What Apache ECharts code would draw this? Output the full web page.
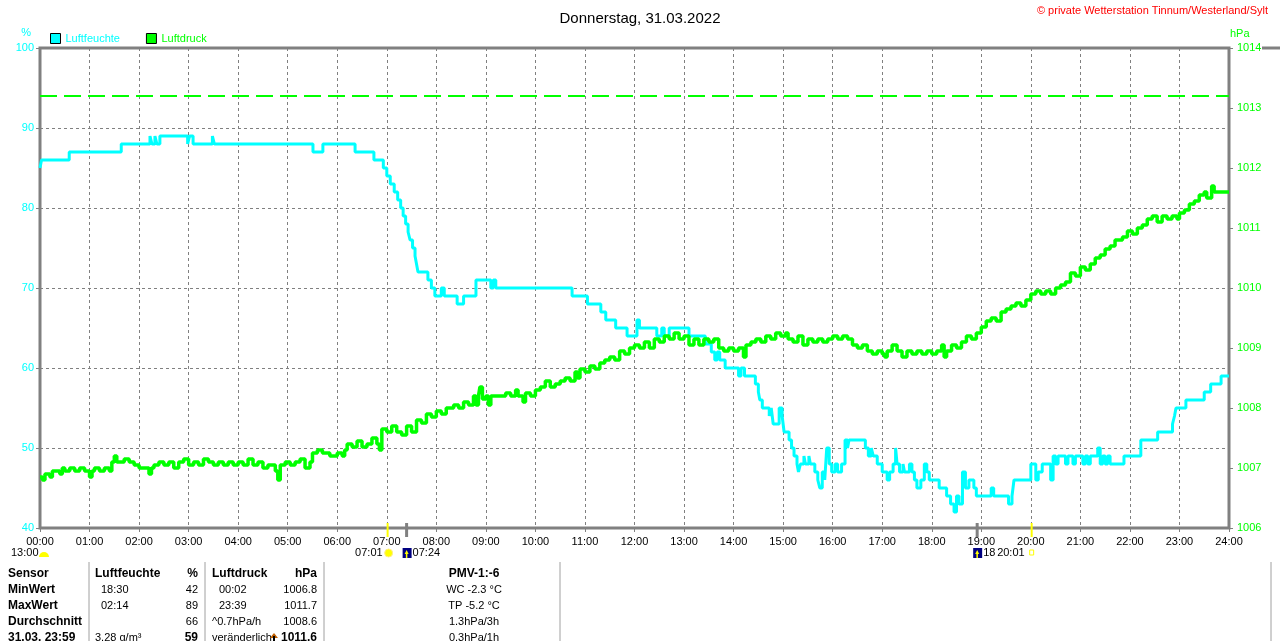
<!DOCTYPE html>
<html>
<head>
<meta charset="utf-8">
<title>Donnerstag, 31.03.2022</title>
<script src="https://cdn.jsdelivr.net/npm/echarts@6/dist/echarts.min.js"></script>
<style>
  html, body { margin: 0; padding: 0; background: #fff; }
  #main { width: 1280px; height: 641px; }
</style>
</head>
<body>
<div id="main"></div>
<script>
// Luftfeuchte (%), Stufen: Wert gilt ab der Stunde bis zum nächsten Eintrag
const humHours = [
  0.00, 0.03, 0.59, 1.64, 2.22, 2.26, 2.32, 2.36, 2.42, 2.98, 3.02, 3.09, 3.48, 3.52,
  5.51, 5.71, 6.36, 6.74, 6.93, 7.00, 7.07, 7.15, 7.22, 7.28, 7.33, 7.38, 7.43, 7.47,
  7.52, 7.57, 7.60, 7.63, 7.83, 7.90, 7.97, 8.10, 8.16, 8.42, 8.55, 8.80, 9.10, 9.15,
  9.20, 10.74, 11.05, 11.32, 11.42, 11.62, 11.85, 12.05, 12.10, 12.45, 12.55, 12.60, 12.70,
  13.10, 13.43, 13.55, 13.62, 13.67, 13.72, 13.83, 14.10, 14.15, 14.22, 14.44, 14.50,
  14.53, 14.58, 14.72, 14.76, 14.80, 14.92, 14.98, 15.02, 15.12, 15.17, 15.22, 15.28,
  15.31, 15.35, 15.42, 15.45, 15.52, 15.55, 15.64, 15.70, 15.74, 15.79, 15.84, 15.88,
  15.93, 15.98, 16.05, 16.10, 16.18, 16.25, 16.30, 16.33, 16.66, 16.72, 16.78, 16.82,
  16.90, 17.00, 17.10, 17.15, 17.22, 17.27, 17.30, 17.35, 17.42, 17.45, 17.55, 17.60,
  17.65, 17.70, 17.78, 17.85, 17.90, 17.95, 18.15, 18.30, 18.38, 18.45, 18.50, 18.55,
  18.62, 18.68, 18.75, 18.85, 18.90, 19.09, 19.20, 19.25, 19.55, 19.62, 19.66, 20.00,
  20.10, 20.15, 20.23, 20.40, 20.45, 20.50, 20.55, 20.70, 20.75, 20.85, 20.90, 21.05,
  21.10, 21.15, 21.20, 21.35, 21.40, 21.45, 21.50, 21.55, 21.60, 21.88, 22.22, 22.56,
  22.86, 22.90, 22.93, 23.13, 23.50, 23.63, 23.84, 24.00
];
const humValues = [
  85, 86, 87, 88, 89, 88, 89, 88, 89, 88, 89, 88, 89, 88,
  87, 88, 87, 86, 85, 84, 83, 82, 81, 80, 79, 78, 77, 76,
  75, 74, 73, 72, 71, 70, 69, 70, 69, 68, 69, 71, 70, 71,
  70, 69, 68, 67, 66, 65, 64, 66, 65, 64, 65, 64, 65,
  64, 63, 62, 61, 62, 61, 60, 59, 60, 59, 58, 57,
  56, 55, 54, 55, 53, 55, 54, 52, 51, 50, 49, 48,
  47, 48, 49, 48, 49, 48, 47, 46, 45, 47, 46, 50,
  48, 47, 48, 47, 48, 51, 50, 51, 50, 49, 50, 49,
  48, 47, 46, 47, 48, 50, 48, 47, 48, 47, 48, 47,
  46, 45, 46, 48, 47, 46, 45, 44, 43, 42, 44, 43,
  47, 45, 46, 45, 44, 44, 45, 44, 43, 44, 46, 48,
  46, 47, 48, 46, 49, 48, 49, 48, 49, 48, 49, 48,
  49, 48, 49, 50, 48, 49, 48, 49, 48, 49, 51, 52,
  53, 54, 55, 56, 57, 58, 59, 59
];

// Luftdruck (hPa)
const pressHours = [
  0.00, 0.05, 0.10, 0.20, 0.25, 0.40, 0.45, 0.50, 0.60, 0.70, 0.80, 0.90, 1.00, 1.05,
  1.10, 1.20, 1.30, 1.40, 1.45, 1.50, 1.55, 1.70, 1.80, 1.90, 2.00, 2.20, 2.25, 2.30,
  2.40, 2.50, 2.60, 2.70, 2.80, 2.90, 3.00, 3.10, 3.20, 3.30, 3.40, 3.50, 3.60, 3.70,
  3.80, 3.90, 4.00, 4.10, 4.20, 4.30, 4.40, 4.50, 4.60, 4.75, 4.80, 4.85, 4.95, 5.05,
  5.15, 5.25, 5.35, 5.45, 5.50, 5.60, 5.70, 5.85, 6.00, 6.10, 6.15, 6.20, 6.30, 6.40,
  6.50, 6.60, 6.70, 6.80, 6.85, 6.90, 7.00, 7.10, 7.20, 7.30, 7.40, 7.50, 7.60, 7.70,
  7.80, 7.90, 8.00, 8.10, 8.20, 8.35, 8.45, 8.55, 8.65, 8.75, 8.80, 8.85, 8.88, 8.93,
  9.00, 9.05, 9.10, 9.30, 9.40, 9.50, 9.60, 9.65, 9.75, 9.80, 9.90, 10.00, 10.10, 10.20,
  10.30, 10.40, 10.50, 10.60, 10.70, 10.80, 10.85, 10.90, 11.00, 11.10, 11.20, 11.30,
  11.40, 11.50, 11.60, 11.70, 11.80, 11.90, 12.00, 12.10, 12.20, 12.30, 12.40, 12.50,
  12.60, 12.70, 12.80, 12.90, 13.00, 13.10, 13.20, 13.30, 13.40, 13.50, 13.60, 13.70,
  13.80, 13.90, 14.00, 14.10, 14.20, 14.25, 14.35, 14.45, 14.55, 14.65, 14.75, 14.85,
  14.95, 15.05, 15.10, 15.20, 15.30, 15.40, 15.50, 15.60, 15.70, 15.80, 15.90, 16.00,
  16.10, 16.20, 16.30, 16.40, 16.50, 16.60, 16.70, 16.80, 16.90, 17.00, 17.05, 17.10,
  17.20, 17.30, 17.40, 17.50, 17.60, 17.70, 17.80, 17.90, 18.00, 18.10, 18.20, 18.25,
  18.30, 18.40, 18.50, 18.60, 18.70, 18.80, 18.90, 19.00, 19.10, 19.20, 19.30, 19.40,
  19.50, 19.60, 19.70, 19.80, 19.90, 20.00, 20.10, 20.20, 20.30, 20.40, 20.50, 20.60,
  20.70, 20.80, 20.90, 21.00, 21.10, 21.20, 21.30, 21.40, 21.50, 21.60, 21.70, 21.85,
  21.95, 22.05, 22.15, 22.25, 22.35, 22.45, 22.55, 22.65, 22.75, 22.85, 22.95, 23.00,
  23.10, 23.20, 23.30, 23.40, 23.50, 23.55, 23.65, 23.70, 24.00
];
const pressValues = [
  1006.85, 1006.8, 1006.9, 1006.85, 1006.95, 1006.9, 1007.0, 1006.95, 1007.0, 1006.95, 1007.0, 1006.95, 1006.85, 1006.95,
  1007.0, 1006.95, 1007.0, 1006.95, 1007.1, 1007.2, 1007.1, 1007.15, 1007.1, 1007.05, 1007.0, 1006.9, 1007.0, 1007.05,
  1007.1, 1007.05, 1007.1, 1007.0, 1007.1, 1007.15, 1007.05, 1007.1, 1007.05, 1007.15, 1007.1, 1007.05, 1007.1, 1007.05,
  1007.1, 1007.05, 1007.1, 1007.05, 1007.15, 1007.05, 1007.1, 1007.0, 1007.05, 1006.95, 1006.8, 1007.05, 1007.1, 1007.05,
  1007.1, 1007.15, 1007.0, 1007.1, 1007.25, 1007.3, 1007.25, 1007.2, 1007.25, 1007.2, 1007.3, 1007.4, 1007.35, 1007.45,
  1007.35, 1007.4, 1007.5, 1007.4, 1007.3, 1007.65, 1007.6, 1007.7, 1007.6, 1007.55, 1007.7, 1007.6, 1007.8, 1007.75,
  1007.9, 1007.85, 1007.95, 1007.9, 1008.0, 1008.05, 1008.0, 1008.1, 1008.05, 1008.2, 1008.05, 1008.2, 1008.35, 1008.15,
  1008.2, 1008.05, 1008.2, 1008.2, 1008.25, 1008.2, 1008.3, 1008.2, 1008.1, 1008.25, 1008.2, 1008.3, 1008.35, 1008.45,
  1008.35, 1008.4, 1008.45, 1008.5, 1008.45, 1008.6, 1008.5, 1008.65, 1008.6, 1008.7, 1008.65, 1008.75,
  1008.8, 1008.85, 1008.8, 1008.95, 1008.9, 1009.0, 1009.05, 1009.0, 1009.1, 1009.0, 1009.15, 1009.1,
  1009.2, 1009.15, 1009.25, 1009.15, 1009.2, 1009.05, 1009.15, 1009.05, 1009.15, 1009.1, 1009.15, 1009.0,
  1008.95, 1009.0, 1008.95, 1009.0, 1008.85, 1009.05, 1009.1, 1009.15, 1009.1, 1009.2, 1009.15, 1009.25,
  1009.2, 1009.25, 1009.15, 1009.1, 1009.2, 1009.05, 1009.15, 1009.1, 1009.15, 1009.1, 1009.15, 1009.2,
  1009.15, 1009.2, 1009.15, 1009.05, 1009.0, 1009.05, 1008.95, 1008.9, 1008.95, 1008.9, 1008.85, 1008.95,
  1009.05, 1008.95, 1008.85, 1008.95, 1008.9, 1008.95, 1008.9, 1008.95, 1008.9, 1008.95, 1009.05, 1008.85,
  1008.95, 1009.05, 1009.0, 1009.1, 1009.2, 1009.15, 1009.25, 1009.35, 1009.45, 1009.5, 1009.45, 1009.6,
  1009.65, 1009.7, 1009.75, 1009.7, 1009.8, 1009.9, 1009.95, 1009.9, 1009.95, 1009.9, 1010.0, 1010.05,
  1010.1, 1010.25, 1010.2, 1010.35, 1010.3, 1010.4, 1010.5, 1010.55, 1010.65, 1010.7, 1010.8, 1010.85,
  1010.95, 1010.9, 1011.0, 1011.05, 1011.15, 1011.2, 1011.1, 1011.2, 1011.15, 1011.2, 1011.15, 1011.25,
  1011.3, 1011.4, 1011.45, 1011.55, 1011.6, 1011.5, 1011.7, 1011.6, 1011.6
];

const pressRefLine = 1013.2;

// Sonne / Mond Auf- und Untergang
const sunMoonEvents = [
  { t: 7 + 1 / 60, label: '07:01', kind: 'sunrise' },
  { t: 7 + 24 / 60, label: '07:24', kind: 'moonrise' },
  { t: 18 + 55 / 60, label: '18:55', kind: 'moonset' },
  { t: 20 + 1 / 60, label: '20:01', kind: 'sunset' }
];
const moonLabel = '13:00';

// Tabelle unten
const tableHeader = ['Sensor', 'Luftfeuchte', '%', 'Luftdruck', 'hPa', 'PMV-1:-6'];
const rowLabels = ['MinWert', 'MaxWert', 'Durchschnitt', '31.03. 23:59'];
const humTimes = ['18:30', '02:14', '', '3.28 g/m³'];
const humStats = ['42', '89', '66', '59'];
const pressTimes = ['00:02', '23:39', '^0.7hPa/h', 'veränderlich'];
const pressStats = ['1006.8', '1011.7', '1008.6', '1011.6'];
const pmvTexts = ['WC -2.3 °C', 'TP -5.2 °C', '1.3hPa/3h', '0.3hPa/1h'];

const CYAN = '#00ffff';
const GREEN = '#00ff00';
const GRAY = '#808080';
const FONT = 'Liberation Sans';

let chart = echarts.init(document.getElementById('main'));

let humData = humHours.map((h, i) => [h, humValues[i]]);
let pressData = pressHours.map((h, i) => [h, pressValues[i]]);

let option = {
  backgroundColor: '#fff',
  animation: false,
  title: {
    text: 'Donnerstag, 31.03.2022',
    left: 'center',
    top: 6,
    textStyle: { color: '#000', fontWeight: 'normal', fontSize: 15, fontFamily: FONT }
  },
  legend: {
    left: 45,
    top: 28,
    itemWidth: 10,
    itemHeight: 10,
    itemGap: 26,
    icon: 'rect',
    itemStyle: { borderColor: '#000', borderWidth: 1 },
    textStyle: { fontSize: 11, fontFamily: FONT },
    data: [
      { name: 'Luftfeuchte', textStyle: { color: CYAN } },
      { name: 'Luftdruck', textStyle: { color: GREEN } }
    ]
  },
  grid: {
    left: 40, right: 51, top: 48, bottom: 113,
    show: true,
    borderColor: GRAY,
    borderWidth: 3
  },
  xAxis: {
    type: 'value',
    min: 0, max: 24, interval: 1,
    axisLine: { show: false },
    axisTick: { show: true, length: 4, lineStyle: { color: GRAY } },
    axisLabel: {
      color: '#000', fontSize: 11, fontFamily: FONT, margin: 8,
      formatter: v => String(v).padStart(2, '0') + ':00'
    },
    splitLine: { show: true, lineStyle: { color: GRAY, type: [3, 3], width: 1 } }
  },
  yAxis: [
    {
      type: 'value',
      min: 40, max: 100, interval: 10,
      name: '%',
      nameLocation: 'end',
      nameGap: 10,
      nameTextStyle: { color: CYAN, fontSize: 11, fontFamily: FONT, align: 'right', padding: [0, 9, 0, 0] },
      axisLine: { show: false },
      axisTick: { show: true, length: 4, lineStyle: { color: GRAY } },
      axisLabel: { color: CYAN, fontSize: 11, fontFamily: FONT, margin: 6 },
      splitLine: { show: true, lineStyle: { color: GRAY, type: [3, 3], width: 1 } }
    },
    {
      type: 'value',
      min: 1006, max: 1014, interval: 1,
      position: 'right',
      name: 'hPa',
      nameLocation: 'end',
      nameGap: 9,
      nameTextStyle: { color: GREEN, fontSize: 11, fontFamily: FONT, align: 'left', padding: [0, 0, 0, 1] },
      axisLine: { show: false },
      axisTick: { show: true, length: 4, lineStyle: { color: GRAY } },
      axisLabel: { color: GREEN, fontSize: 11, fontFamily: FONT, margin: 8, formatter: v => String(v) },
      splitLine: { show: false }
    }
  ],
  series: [
    {
      name: 'Luftfeuchte',
      type: 'line',
      step: 'end',
      yAxisIndex: 0,
      showSymbol: false,
      color: CYAN,
      lineStyle: { color: CYAN, width: 3 },
      data: humData
    },
    {
      name: 'Luftdruck',
      type: 'line',
      step: 'end',
      yAxisIndex: 1,
      showSymbol: false,
      color: GREEN,
      lineStyle: { color: GREEN, width: 3.5 },
      data: pressData,
      markLine: {
        silent: true,
        symbol: 'none',
        label: { show: false },
        lineStyle: { color: GREEN, type: [17, 7], width: 2 },
        data: [{ yAxis: pressRefLine }]
      }
    }
  ]
};

chart.setOption(option);

/* Texte und Markierungen unter der Zeitachse + Tabelle */
let graphics = [];

graphics.push({
  type: 'text', right: 12, top: 5,
  style: { text: '© private Wetterstation Tinnum/Westerland/Sylt', fill: '#ff0000', font: '11px ' + FONT }
});

sunMoonEvents.forEach(ev => {
  let [px, py] = chart.convertToPixel({ xAxisIndex: 0, yAxisIndex: 0 }, [ev.t, 40]);
  let isSun = ev.kind === 'sunrise' || ev.kind === 'sunset';
  graphics.push({
    type: 'line', z: 20,
    shape: { x1: px, y1: py - 5, x2: px, y2: py + 9 },
    style: { stroke: isSun ? '#ffff00' : GRAY, lineWidth: isSun ? 2 : 3 }
  });
  if (ev.kind === 'sunrise') {
    graphics.push({ type: 'circle', shape: { cx: px + 1, cy: 553, r: 4 }, style: { fill: '#ffff00', stroke: '#ffee88', lineWidth: 1 } });
    graphics.push({ type: 'text', x: px - 5, y: 553, style: { text: ev.label, fill: '#000', font: '11px ' + FONT, align: 'right', verticalAlign: 'middle' } });
  } else if (ev.kind === 'sunset') {
    graphics.push({ type: 'text', x: px - 7, y: 553, z: 5, style: { text: ev.label, fill: '#000', font: '11px ' + FONT, align: 'right', verticalAlign: 'middle', backgroundColor: '#fff', padding: [0, 0, 0, 2] } });
    graphics.push({ type: 'rect', shape: { x: px - 2, y: 550, width: 4, height: 5 }, style: { fill: '#fff', stroke: '#ffff00', lineWidth: 1 } });
  } else {
    graphics.push({ type: 'rect', shape: { x: px - 4, y: 548, width: 9, height: 10 }, style: { fill: '#000080' } });
    graphics.push({ type: 'polygon', shape: { points: [[px, 550], [px - 2, 554], [px + 2, 554]] }, style: { fill: '#ffff00' } });
    graphics.push({ type: 'line', shape: { x1: px, y1: 553, x2: px, y2: 558 }, style: { stroke: '#ffff00', lineWidth: 1.5 } });
    graphics.push({ type: 'text', x: px + 6, y: 553, z: 1, style: { text: ev.label, fill: '#000', font: '11px ' + FONT, verticalAlign: 'middle' } });
  }
});

graphics.push({ type: 'text', x: 11, y: 553, style: { text: moonLabel, fill: '#000', font: '11px ' + FONT, verticalAlign: 'middle' } });
graphics.push({ type: 'sector', shape: { cx: 44, cy: 557, r0: 0, r: 5, startAngle: Math.PI, endAngle: 2 * Math.PI }, style: { fill: '#ffff00' } });

// Tabelle
const rowY = [574, 590, 606, 622, 638];
const sepX = [89, 205, 324, 560];
sepX.forEach(x => {
  graphics.push({ type: 'line', shape: { x1: x, y1: 562, x2: x, y2: 641 }, style: { stroke: '#a0a0a0', lineWidth: 1 } });
});

function txt(x, y, s, opts) {
  opts = opts || {};
  graphics.push({
    type: 'text', x: x, y: y,
    style: {
      text: s, fill: '#000',
      font: (opts.bold ? 'bold 12px ' : '11px ') + FONT,
      align: opts.align || 'left', verticalAlign: 'middle'
    }
  });
}

txt(8, rowY[0], tableHeader[0], { bold: true });
txt(95, rowY[0], tableHeader[1], { bold: true });
txt(198, rowY[0], tableHeader[2], { bold: true, align: 'right' });
txt(212, rowY[0], tableHeader[3], { bold: true });
txt(317, rowY[0], tableHeader[4], { bold: true, align: 'right' });
txt(474, rowY[0], tableHeader[5], { bold: true, align: 'center' });

rowLabels.forEach((lab, i) => {
  let y = rowY[i + 1];
  let last = i === rowLabels.length - 1;
  txt(8, y, lab, { bold: true });
  txt(i >= 2 ? 95 : 101, y, humTimes[i]);
  txt(198, y, humStats[i], { align: 'right', bold: last });
  txt(i >= 2 ? 212 : 219, y, pressTimes[i]);
  txt(317, y, pressStats[i], { align: 'right', bold: last });
  txt(474, y, pmvTexts[i], { align: 'center' });
});

// Pfeil hinter "veränderlich"
graphics.push({ type: 'polygon', shape: { points: [[274, 633], [270, 638], [278, 638]] }, style: { fill: '#c06000' } });
graphics.push({ type: 'line', shape: { x1: 274, y1: 636, x2: 274, y2: 641 }, style: { stroke: '#000', lineWidth: 2 } });

// Rand des nächsten Diagramms rechts
graphics.push({ type: 'line', shape: { x1: 1262, y1: 48, x2: 1280, y2: 48 }, style: { stroke: GRAY, lineWidth: 3 } });
graphics.push({ type: 'line', shape: { x1: 1271, y1: 562, x2: 1271, y2: 641 }, style: { stroke: '#a0a0a0', lineWidth: 1 } });

chart.setOption({ graphic: graphics });
</script>
</body>
</html>
